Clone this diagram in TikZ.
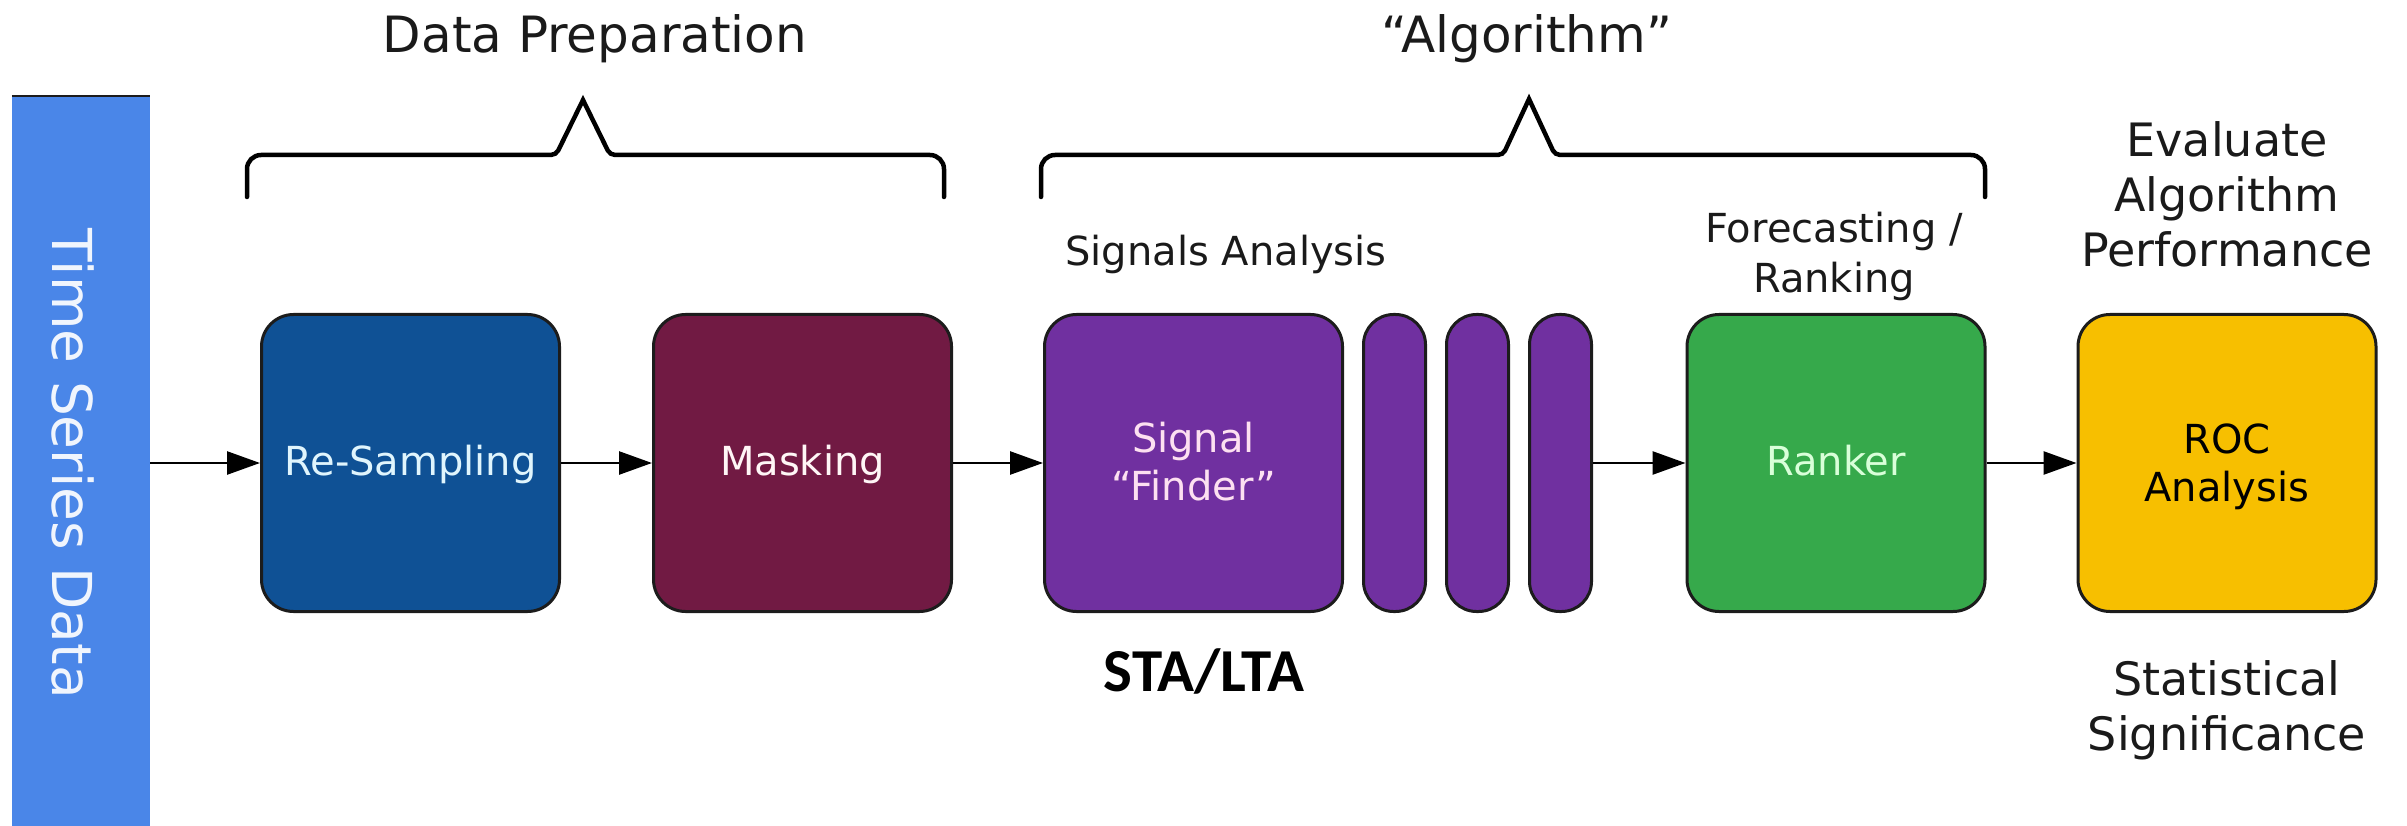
\documentclass[tikz,border=0pt]{standalone}
\usepackage{fontspec}
\setmainfont{DejaVu Sans}
\newfontfamily\calib{Carlito}
\usetikzlibrary{arrows.meta}
\definecolor{barblue}{HTML}{4A86E8}
\definecolor{resamp}{HTML}{0F5195}
\definecolor{maskc}{HTML}{711A43}
\definecolor{purp}{HTML}{7030A0}
\definecolor{rankc}{HTML}{36A94B}
\definecolor{rocc}{HTML}{F7BF00}
\definecolor{edgec}{HTML}{1C1C1C}
\definecolor{txtdark}{HTML}{1A1A1A}
\begin{document}
\begin{tikzpicture}[x=1pt,y=-1pt,
  stage/.style={draw=edgec, line width=3pt, rounded corners=32pt,
    minimum width=298pt, minimum height=297pt, inner sep=0pt},
  pill/.style={draw=edgec, line width=3pt, fill=purp, rounded corners=30pt,
    minimum width=62pt, minimum height=297pt, inner sep=0pt},
  boxlabel/.style={font=\fontsize{40}{48}\selectfont, align=center, inner sep=0pt},
  toplabel/.style={font=\fontsize{50}{60}\selectfont, text=txtdark, inner sep=0pt},
  sidelabel/.style={font=\fontsize{46}{55}\selectfont, align=center, text=txtdark, inner sep=0pt},
  sublabel/.style={font=\fontsize{40}{50}\selectfont, align=center, text=txtdark, inner sep=0pt},
  arr/.style={draw=black, line width=2.6pt, -{Triangle[length=33pt,width=23pt]}},
  bracestyle/.style={draw=black, line width=4.5pt, line cap=round}
]
\useasboundingbox (0,0) rectangle (2407,826);

% time series bar
\node[fill=barblue, minimum width=138pt, minimum height=731pt, inner sep=0pt] (bar) at (81,461.5) {};
\draw[edgec, line width=2pt] (bar.north west) -- (bar.north east);
\node[rotate=-90, font=\fontsize{55}{66}\selectfont, text=white!92!barblue, inner sep=0pt] (tsd) at (73,464) {Time Series Data};

% stages
\node[stage, fill=resamp] (rs) at (410.5,463) {};
\node[stage, fill=maskc] (mk) at (802.5,463) {};
\node[stage, fill=purp] (sf) at (1193.5,463) {};
\node[pill] (p1) at (1394.5,463) {};
\node[pill] (p2) at (1477.5,463) {};
\node[pill] (p3) at (1560.5,463) {};
\node[stage, fill=rankc] (rk) at (1836,463) {};
\node[stage, fill=rocc] (roc) at (2227,463) {};

% box labels
\node[boxlabel, anchor=base, text=white!88!cyan] (rst) at (410.5,475) {Re-Sampling};
\node[boxlabel, anchor=base, text=white!85!pink] (mkt) at (802.5,475) {Masking};
\node[boxlabel, text=white!88!magenta] (sft) at (1193.5,461.8) {Signal\\“Finder”};
\node[boxlabel, anchor=base, text=white!85!green] (rkt) at (1836,475) {Ranker};
\node[boxlabel, text=black] (roct) at (2227,466.4) {ROC\\Analysis};

% connectors
\draw[arr] (bar.east |- rs.west) -- (rs.west);
\draw[arr] (rs.east) -- (mk.west);
\draw[arr] (mk.east) -- (sf.west);
\draw[arr] (p3.east) -- (rk.west);
\draw[arr] (rk.east) -- (roc.west);

% braces
\draw[bracestyle] (247,197) [rounded corners=14pt] -- (247,155) [rounded corners=5pt] -- (556,155) [sharp corners] -- (583,100) [rounded corners=5pt] -- (610,155) [rounded corners=14pt] -- (944,155) -- (944,197);
\draw[bracestyle] (1041,197) [rounded corners=14pt] -- (1041,155) [rounded corners=5pt] -- (1503,155) [sharp corners] -- (1529,99) [rounded corners=5pt] -- (1555,155) [rounded corners=14pt] -- (1985,155) -- (1985,197);

% headings
\node[toplabel, anchor=base] (dp) at (595,53) {Data Preparation};
\node[toplabel, anchor=base] (alg) at (1527,53) {“Algorithm”};
\node[sublabel, anchor=base] (sa) at (1226,266) {Signals Analysis};
\node[sublabel] (fr) at (1834,256) {Forecasting /\\Ranking};
\node[sidelabel] (eap) at (2227,194) {Evaluate\\Algorithm\\Performance};
\node[sidelabel] (ss) at (2227,710) {Statistical\\Significance};
\node[font=\calib\bfseries\fontsize{61}{72}\selectfont, anchor=base, inner sep=0pt] (sta) at (1204,691) {STA/LTA};
\end{tikzpicture}
\end{document}
